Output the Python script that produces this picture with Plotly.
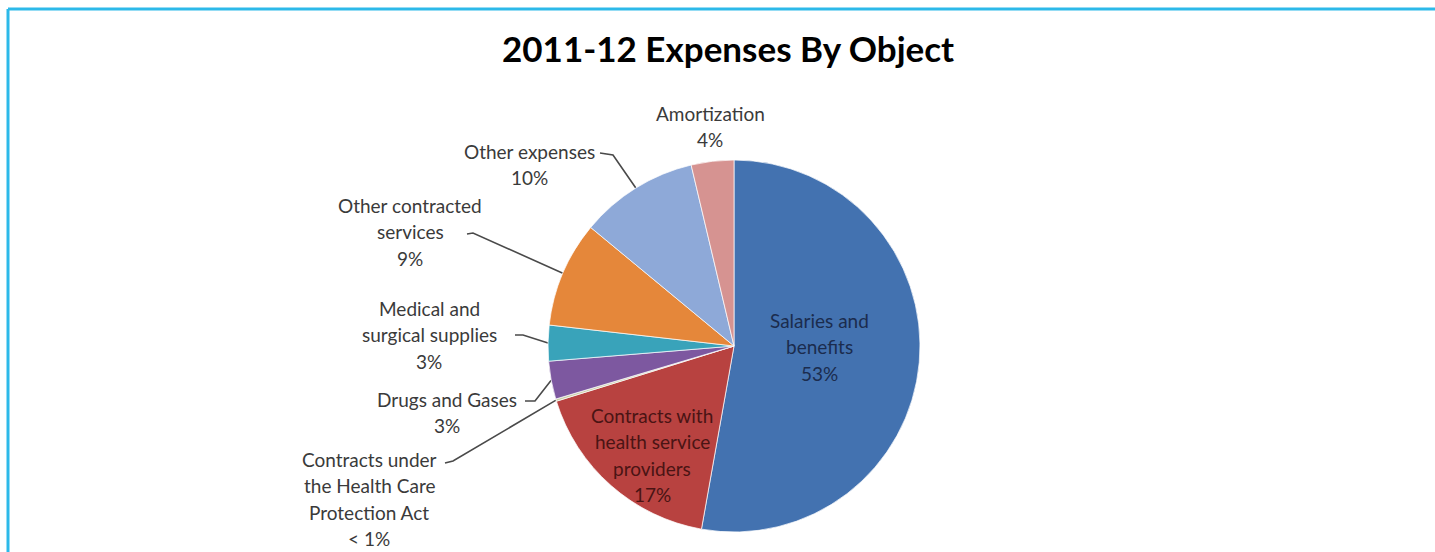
import math
import plotly.graph_objects as go

# ---- data -------------------------------------------------------------
categories = [
    "Salaries and benefits",
    "Contracts with health service providers",
    "Contracts under the Health Care Protection Act",
    "Drugs and Gases",
    "Medical and surgical supplies",
    "Other contracted services",
    "Other expenses",
    "Amortization",
]
shares = [52.8, 17.4, 0.2, 3.3, 3.1, 9.2, 10.3, 3.7]
pct_labels = ["53%", "17%", "< 1%", "3%", "3%", "9%", "10%", "4%"]
label_lines = [
    ["Salaries and", "benefits"],
    ["Contracts with", "health service", "providers"],
    ["Contracts under", "the Health Care", "Protection Act"],
    ["Drugs and Gases"],
    ["Medical and", "surgical supplies"],
    ["Other contracted", "services"],
    ["Other expenses"],
    ["Amortization"],
]
colors = ["#4372B0", "#B84240", "#C9CFA8", "#7D58A0",
          "#39A3BA", "#E5873A", "#8EA9D8", "#D69391"]

# ---- layout constants (pixels) ---------------------------------------
W, H = 1435, 552
CX, CY, R = 734, 346, 186
LINE_GAP = 26.5

# label block: centre x, first-line y, text colour
label_pos = [
    (819, 320, "#1B2C4E"),
    (652, 415, "#4A1414"),
    (369, 459, "#3A3A3A"),
    (447, 399, "#3A3A3A"),
    (429, 308, "#3A3A3A"),
    (410, 205, "#3A3A3A"),
    (529, 151, "#3A3A3A"),
    (710, 113, "#3A3A3A"),
]
# leader line elbows (text side) for outside labels; None = no leader
elbows = [
    None,
    None,
    [(445, 463), (453, 461)],
    [(525, 401), (535, 401)],
    [(515, 335), (523, 335)],
    [(467, 234), (473, 233)],
    [(600, 153), (613, 155)],
    None,
]

fig = go.Figure()

fig.add_trace(go.Pie(
    labels=categories,
    values=shares,
    sort=False,
    direction="clockwise",
    rotation=0,
    marker=dict(colors=colors, line=dict(color="rgba(255,255,255,0.7)", width=1)),
    textinfo="none",
    hoverinfo="label+percent",
    showlegend=False,
    domain=dict(x=[(CX - R) / W, (CX + R) / W],
                y=[1 - (CY + R) / H, 1 - (CY - R) / H]),
))

# slice mid-angles (clockwise from 12 o'clock) from the data
total = sum(shares)
mid_angles = []
acc = 0.0
for v in shares:
    mid_angles.append((acc + v / 2) / total * 360.0)
    acc += v

for i, el in enumerate(elbows):
    if el is None:
        continue
    a = math.radians(mid_angles[i])
    ex, ey = CX + R * math.sin(a), CY - R * math.cos(a)
    xs = [p[0] for p in el] + [ex]
    ys = [p[1] for p in el] + [ey]
    fig.add_trace(go.Scatter(x=xs, y=ys, mode="lines",
                             line=dict(color="#4A4A4A", width=1.6),
                             hoverinfo="skip", showlegend=False))

annotations = []
for i, lines in enumerate(label_lines):
    x0, y0, col = label_pos[i]
    for j, txt in enumerate(lines + [pct_labels[i]]):
        annotations.append(dict(
            x=x0, y=y0 + j * LINE_GAP, xref="x", yref="y",
            text=txt, showarrow=False, xanchor="center", yanchor="middle",
            font=dict(family="Lato", size=19, color=col),
        ))

annotations.append(dict(
    x=728, y=48, xref="x", yref="y", text="<b>2011-12 Expenses By Object</b>",
    showarrow=False, xanchor="center", yanchor="middle",
    font=dict(family="Lato", size=35, color="#000000"),
))

# frame lines along the top and left edges
shapes = [
    dict(type="line", x0=8, x1=W, y0=9, y1=9, xref="x", yref="y",
         line=dict(color="#2CB9E9", width=3)),
    dict(type="line", x0=8, x1=8, y0=9, y1=H, xref="x", yref="y",
         line=dict(color="#2CB9E9", width=3)),
]

fig.update_layout(
    width=W, height=H,
    margin=dict(l=0, r=0, t=0, b=0),
    paper_bgcolor="white", plot_bgcolor="white",
    xaxis=dict(range=[0, W], visible=False, fixedrange=True, domain=[0, 1]),
    yaxis=dict(range=[H, 0], visible=False, fixedrange=True, domain=[0, 1]),
    annotations=annotations,
    shapes=shapes,
)

fig.write_html("out.html")
